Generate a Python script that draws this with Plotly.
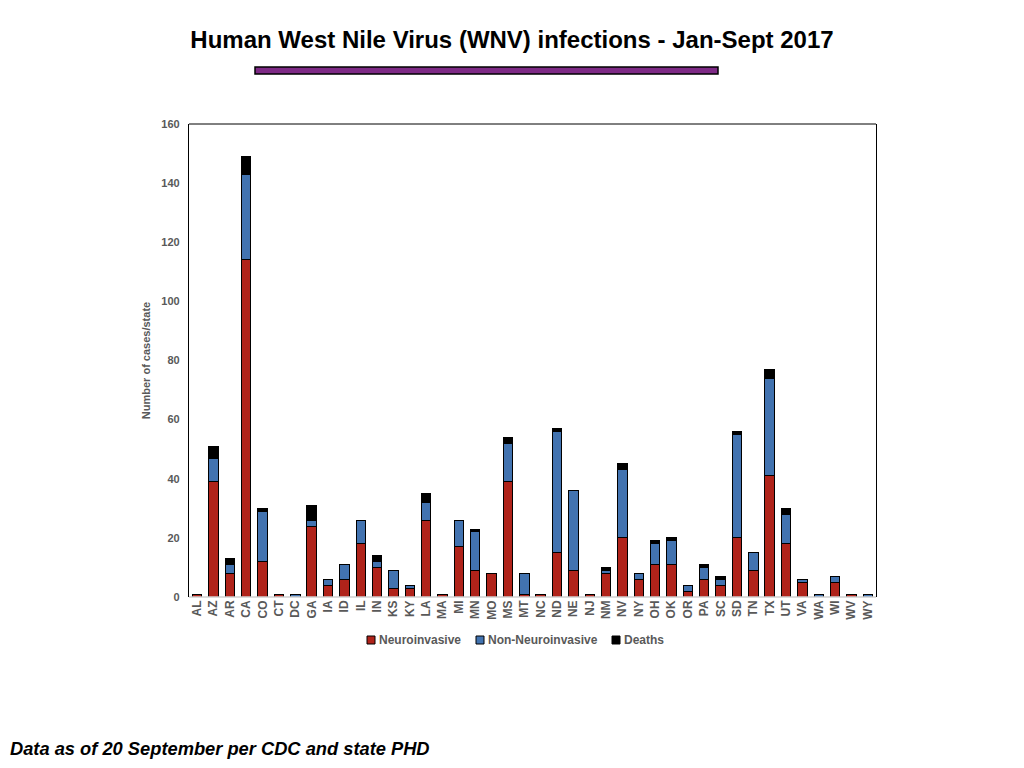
import plotly.graph_objects as go

OUTPUT_HTML = "out.html"

# states, in the order shown on the axis
states = ["AL", "AZ", "AR", "CA", "CO", "CT", "DC", "GA", "IA", "ID", "IL", "IN", "KS", "KY",
          "LA", "MA", "MI", "MN", "MO", "MS", "MT", "NC", "ND", "NE", "NJ", "NM", "NV", "NY",
          "OH", "OK", "OR", "PA", "SC", "SD", "TN", "TX", "UT", "VA", "WA", "WI", "WV", "WY"]

neuroinvasive = [1, 39, 8, 114, 12, 1, 0, 24, 4, 6, 18, 10, 3, 3,
                 26, 1, 17, 9, 8, 39, 1, 1, 15, 9, 1, 8, 20, 6,
                 11, 11, 2, 6, 4, 20, 9, 41, 18, 5, 0, 5, 1, 0]

non_neuroinvasive = [0, 8, 3, 29, 17, 0, 1, 2, 2, 5, 8, 2, 6, 1,
                     6, 0, 9, 13, 0, 13, 7, 0, 41, 27, 0, 1, 23, 2,
                     7, 8, 2, 4, 2, 35, 6, 33, 10, 1, 1, 2, 0, 1]

deaths = [0, 4, 2, 6, 1, 0, 0, 5, 0, 0, 0, 2, 0, 0,
          3, 0, 0, 1, 0, 2, 0, 0, 1, 0, 0, 1, 2, 0,
          1, 1, 0, 1, 1, 1, 0, 3, 2, 0, 0, 0, 0, 0]

series_names = ["Neuroinvasive", "Non-Neuroinvasive", "Deaths"]

RED = "#b0231a"
BLUE = "#4273b0"
BLACK = "#000000"
GREY = "#595959"
FONT = "Liberation Sans"

# the page body adds an 8px margin, so the figure is laid out 8px up/left
PAD = 8
PLOT_L, PLOT_R, PLOT_T, PLOT_B = 189, 876, 124, 597   # plot area in page pixels
PW, PH = PLOT_R - PLOT_L, PLOT_B - PLOT_T


def px(x):
    return (x - PLOT_L) / PW


def py(y):
    return (PLOT_B - y) / PH


fig = go.Figure()
colours = [RED, BLUE, BLACK]
for name, vals, col in zip(series_names, [neuroinvasive, non_neuroinvasive, deaths], colours):
    # zero segments would otherwise leave a stray outline
    fig.add_trace(go.Bar(
        x=states, y=[v if v else None for v in vals], name=name,
        marker=dict(color=col, line=dict(color="black", width=1)),
    ))

fig.update_layout(
    barmode="stack",
    bargap=0.42,
    width=1024, height=768,
    paper_bgcolor="white", plot_bgcolor="white",
    margin=dict(l=PLOT_L - PAD, r=1024 - PLOT_R + PAD, t=PLOT_T - PAD,
                b=768 - PLOT_B + PAD, autoexpand=False),
    font=dict(family=FONT, color=GREY, size=11),
    showlegend=False,
    title=dict(text="<b>Human West Nile Virus (WNV) infections - Jan-Sept 2017</b>",
               x=(512 - PAD) / 1024, xanchor="center", xref="container",
               y=1 - (40 - PAD) / 768, yanchor="middle",
               font=dict(size=24, color="black", family=FONT)),
)

fig.update_yaxes(range=[0, 160], dtick=20, showgrid=False, zeroline=False,
                 showline=True, linecolor="black", linewidth=1, mirror=True,
                 ticks="", tickfont=dict(size=11, color=GREY),
                 tickprefix="<b>", ticksuffix="</b>  ",
                 title=dict(text="<b>Number of cases/state</b>", font=dict(size=11, color=GREY),
                            standoff=8))
fig.update_xaxes(showgrid=False, zeroline=False, showline=False, tickangle=-90,
                 tickprefix="<b>", ticksuffix="</b>",
                 tickfont=dict(size=12, color=GREY), ticks="")

# frame: black top edge, light grey baseline
fig.add_shape(type="line", xref="paper", yref="paper", x0=0, x1=1, y0=1, y1=1,
              line=dict(color="black", width=1))
fig.add_shape(type="line", xref="paper", yref="paper", x0=0, x1=1, y0=0, y1=0,
              line=dict(color="#d0d0d0", width=1.5))

# purple rule under the title
fig.add_shape(type="rect", xref="paper", yref="paper",
              x0=px(255), x1=px(718), y0=py(74), y1=py(67),
              fillcolor="#7e2a86", line=dict(color="black", width=1.5))

# compact legend drawn by hand (small squares, bold labels)
legend_x = [367, 476, 612]
for name, col, lx in zip(series_names, colours, legend_x):
    fig.add_shape(type="rect", xref="paper", yref="paper",
                  x0=px(lx), x1=px(lx + 8), y0=py(644), y1=py(636),
                  fillcolor=col, line=dict(color="black", width=1))
    fig.add_annotation(text="<b>" + name + "</b>", xref="paper", yref="paper",
                       x=px(lx + 10), xanchor="left", y=py(640), yanchor="middle",
                       showarrow=False, font=dict(size=12, color=GREY, family=FONT))

fig.add_annotation(text="<b><i>Data as of 20 September per CDC and state PHD</i></b>",
                   xref="paper", yref="paper", x=px(8), xanchor="left",
                   y=py(748), yanchor="middle", showarrow=False,
                   font=dict(size=18.3, color="black", family=FONT))

fig.write_html(OUTPUT_HTML)
